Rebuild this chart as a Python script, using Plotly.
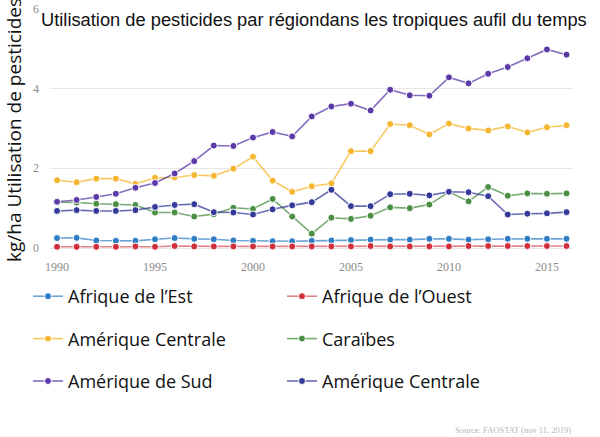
import plotly.graph_objects as go

years = [1990, 1991, 1992, 1993, 1994, 1995, 1996, 1997, 1998, 1999, 2000, 2001, 2002, 2003,
         2004, 2005, 2006, 2007, 2008, 2009, 2010, 2011, 2012, 2013, 2014, 2015, 2016]

afrique_est = [0.25, 0.255, 0.19, 0.18, 0.18, 0.22, 0.25, 0.23, 0.22, 0.19, 0.18, 0.17, 0.17, 0.18,
               0.19, 0.20, 0.21, 0.21, 0.21, 0.23, 0.23, 0.21, 0.22, 0.23, 0.23, 0.23, 0.23]
afrique_ouest = [0.03, 0.03, 0.03, 0.03, 0.04, 0.03, 0.05, 0.04, 0.04, 0.04, 0.04, 0.04, 0.04, 0.04,
                 0.04, 0.04, 0.05, 0.04, 0.04, 0.04, 0.04, 0.05, 0.05, 0.05, 0.05, 0.05, 0.05]
amerique_centrale = [1.70, 1.65, 1.74, 1.74, 1.61, 1.76, 1.77, 1.83, 1.81, 1.99, 2.29, 1.69, 1.41, 1.55,
                     1.62, 2.43, 2.43, 3.11, 3.08, 2.85, 3.12, 3.00, 2.95, 3.05, 2.90, 3.03, 3.08]
caraibes = [1.15, 1.14, 1.11, 1.10, 1.08, 0.89, 0.89, 0.79, 0.85, 1.01, 0.98, 1.23, 0.79, 0.36,
            0.76, 0.73, 0.81, 1.02, 1.00, 1.09, 1.41, 1.17, 1.53, 1.31, 1.37, 1.36, 1.37]
amerique_sud = [1.16, 1.205, 1.28, 1.36, 1.51, 1.63, 1.87, 2.18, 2.57, 2.56, 2.77, 2.91, 2.80, 3.30,
                3.55, 3.62, 3.45, 3.97, 3.83, 3.82, 4.28, 4.13, 4.37, 4.54, 4.76, 4.98, 4.85]
amerique_centrale_2 = [0.93, 0.95, 0.93, 0.93, 0.95, 1.03, 1.08, 1.10, 0.90, 0.89, 0.84, 0.97, 1.07, 1.15,
                       1.46, 1.05, 1.05, 1.35, 1.36, 1.32, 1.41, 1.40, 1.30, 0.84, 0.86, 0.87, 0.90]

series = [
    ("Afrique de l\u2019Est", afrique_est, "#2e7cc4", "rgba(46,124,196,0.7)", "legend"),
    ("Afrique de l\u2019Ouest", afrique_ouest, "#cf2e3a", "rgba(207,46,58,0.6)", "legend2"),
    ("Amérique Centrale", amerique_centrale, "#f5b52e", "rgba(245,181,46,0.75)", "legend"),
    ("Caraïbes", caraibes, "#4b8f45", "rgba(75,143,69,0.75)", "legend2"),
    ("Amérique de Sud", amerique_sud, "#5b3aa8", "rgba(91,58,168,0.75)", "legend"),
    ("Amérique Centrale", amerique_centrale_2, "#34399a", "rgba(52,57,154,0.75)", "legend2"),
]

fig = go.Figure()
for i, (name, vals, mcol, lcol, leg) in enumerate(series):
    fig.add_trace(go.Scatter(
        x=years, y=vals, name=name, mode="lines+markers",
        line=dict(color=lcol, width=1.6),
        marker=dict(color=mcol, size=7, line=dict(color="white", width=1)),
        legend=leg, legendgroup="g%d" % i,
    ))

tick_font = dict(family="Liberation Serif", size=12, color="#8a8a8a")

PL, PR, PT, PB = 50, 573, 8, 252
PW, PH = PR - PL, PB - PT


def px_x(x):
    return (x - PL) / PW


def px_y(y):
    return (PB - y) / PH


fig.update_layout(
    width=600, height=437,
    margin=dict(l=PL, r=600 - PR, t=PT, b=437 - PB, autoexpand=False),
    paper_bgcolor="white", plot_bgcolor="white",
    showlegend=True,
    title=dict(
        text="Utilisation de pesticides par régiondans les tropiques aufil du temps",
        font=dict(family="Liberation Sans", size=18.3, color="#111111"),
        xref="container", yref="container", x=41 / 600, xanchor="left",
        y=1 - 20 / 437, yanchor="middle", automargin=False,
    ),
    xaxis=dict(
        range=[1989.64, 2016.33], showgrid=False, zeroline=False, showline=False,
        tickvals=[1990, 1995, 2000, 2005, 2010, 2015], tickfont=tick_font,
        ticks="", ticklabelstandoff=6, automargin=False,
    ),
    yaxis=dict(
        range=[-0.1, 6.02], tickvals=[0, 2, 4, 6], showgrid=True, gridcolor="#e6e6e6",
        gridwidth=1, zeroline=False, showline=False, tickfont=tick_font,
        ticks="", ticklabelstandoff=10, automargin=False,
        title=dict(text="kg/ha Utilisation de pesticides",
                   font=dict(family="Open Sans", size=19, color="#111111"), standoff=6),
    ),
    legend=dict(
        x=px_x(28), y=px_y(278),
        xanchor="left", yanchor="top", orientation="v",
        font=dict(family="Open Sans", size=18, color="#111111"),
        tracegroupgap=16, bgcolor="rgba(0,0,0,0)",
    ),
    legend2=dict(
        x=px_x(282), y=px_y(278),
        xanchor="left", yanchor="top", orientation="v",
        font=dict(family="Open Sans", size=18, color="#111111"),
        tracegroupgap=16, bgcolor="rgba(0,0,0,0)",
    ),
    annotations=[dict(
        text="Source: FAOSTAT (nov 11, 2019)", xref="paper", yref="paper",
        x=1.0, y=px_y(430), xanchor="right", yanchor="middle", showarrow=False,
        font=dict(family="Liberation Serif", size=8.5, color="#b5b5b5"),
    )],
)

fig.write_html("out.html", config={"displayModeBar": False},
               post_script="document.body.style.margin='0';")
